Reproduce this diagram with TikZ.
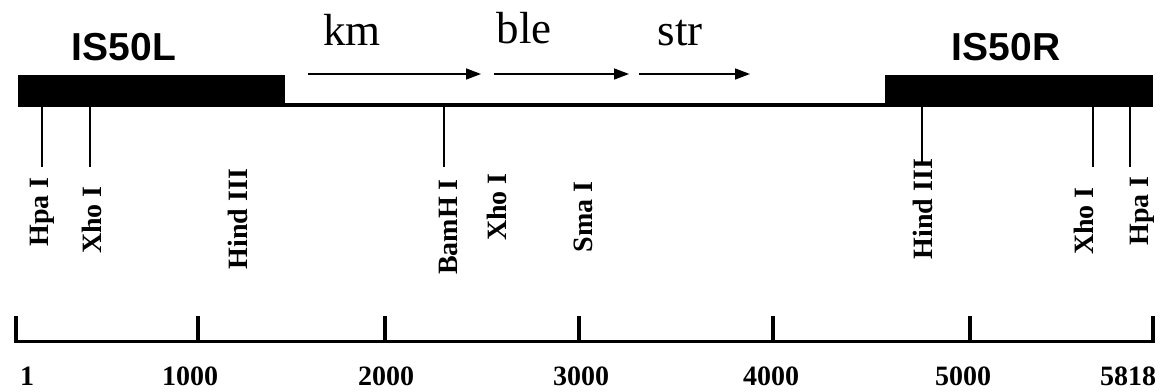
\documentclass[tikz,border=0pt]{standalone}
\usepackage{fontspec}
\setmainfont{Liberation Serif}
\newfontfamily\arialbf{Liberation Sans}[BoldFont={* Bold}]
\usetikzlibrary{arrows.meta}
\tikzset{
  isbox/.style={draw=none,fill=black,inner sep=0pt,minimum height=32pt},
  islabel/.style={font=\arialbf\bfseries\fontsize{39}{39}\selectfont,anchor=base,inner sep=0pt},
  genelabel/.style={font=\fontsize{45}{45}\selectfont,anchor=base,inner sep=0pt},
  genearrow/.style={line width=1.5pt,-{Triangle[length=15pt,width=11pt]}},
  siteline/.style={line width=1.5pt},
  sitelabel/.style={rotate=90,font=\bfseries\fontsize{28}{28}\selectfont,inner sep=0pt},
  scaleline/.style={line width=3pt},
  tickline/.style={line width=4pt},
  numlabel/.style={font=\bfseries\fontsize{28}{28}\selectfont,anchor=base,inner sep=0pt}
}
\begin{document}
\begin{tikzpicture}[x=1pt,y=-1pt]
\useasboundingbox (0,0) rectangle (1166,391);
% IS boxes
\node[isbox,minimum width=267pt] (L) at (151.5,91) {};
\node[isbox,minimum width=268pt] (R) at (1019,91) {};
\draw[line width=4pt] ([yshift=2pt]L.south east) -- ([yshift=2pt]R.south west);
\node[islabel] (isl) at (124,60) {IS50L};
\node[islabel] (isr) at (1006,60) {IS50R};
% genes
\node[genelabel] (km) at (352,45) {km};
\node[genelabel] (ble) at (524,43) {ble};
\node[genelabel] (str) at (680,45) {str};
\coordinate (kmA) at (308,74); \coordinate (kmB) at (481,74);
\coordinate (bleA) at (494,74); \coordinate (bleB) at (629,74);
\coordinate (strA) at (639,74); \coordinate (strB) at (750,74);
\draw[genearrow] (kmA) -- (kmB);
\draw[genearrow] (bleA) -- (bleB);
\draw[genearrow] (strA) -- (strB);
% sites
\coordinate (s1) at (42,167);
\coordinate (s2) at (90,167);
\coordinate (s4) at (444,167);
\coordinate (s7) at (922,163);
\coordinate (s8) at (1093,167);
\coordinate (s9) at (1130,167);
\draw[siteline] (s1 |- L.south) -- (s1);
\draw[siteline] (s2 |- L.south) -- (s2);
\draw[siteline] (s4 |- 0,107) -- (s4);
\draw[siteline] (s7 |- R.south) -- (s7);
\draw[siteline] (s8 |- R.south) -- (s8);
\draw[siteline] (s9 |- R.south) -- (s9);
\node[sitelabel] (t1) at (42,212) {Hpa I};
\node[sitelabel] (t2) at (92,220) {Xho I};
\node[sitelabel] (t3) at (238,219) {Hind III};
\node[sitelabel] (t4) at (448,227) {BamH I};
\node[sitelabel] (t5) at (497,207) {Xho I};
\node[sitelabel] (t6) at (583,217) {Sma I};
\node[sitelabel] (t7) at (923,209) {Hind III};
\node[sitelabel] (t8) at (1084,221) {Xho I};
\node[sitelabel] (t9) at (1142,211) {Hpa I};
% scale
\coordinate (a0) at (16,341);
\coordinate (a1) at (198,341);
\coordinate (a2) at (385,341);
\coordinate (a3) at (579,341);
\coordinate (a4) at (773,341);
\coordinate (a5) at (970,341);
\coordinate (a6) at (1153,341);
\draw[scaleline] ([xshift=-2pt]a0) -- ([xshift=2pt]a6);
\foreach \p in {a0,a1,a2,a3,a4,a5,a6}
  \draw[tickline] ([yshift=1.5pt]\p) -- ([yshift=25pt]\p);
\node[numlabel] (n0) at (27,385) {1};
\node[numlabel] (n1) at (190,385) {1000};
\node[numlabel] (n2) at (386,385) {2000};
\node[numlabel] (n3) at (581,385) {3000};
\node[numlabel] (n4) at (771,385) {4000};
\node[numlabel] (n5) at (963,385) {5000};
\node[numlabel] (n6) at (1128,385) {5818};
\end{tikzpicture}
\end{document}
